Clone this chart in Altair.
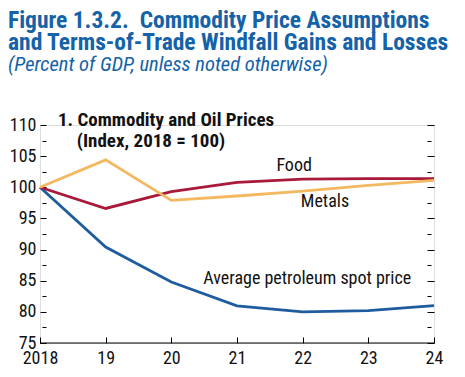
import altair as alt
import pandas as pd

years = [2018, 2019, 2020, 2021, 2022, 2023, 2024]
petroleum = [100.0, 90.4, 84.8, 80.95, 80.0, 80.2, 81.0]
food = [100.0, 96.6, 99.3, 100.8, 101.3, 101.4, 101.4]
metals = [100.0, 104.4, 97.9, 98.6, 99.4, 100.3, 101.1]

series_names = ["Average petroleum spot price", "Food", "Metals"]
series_colors = ["#1f5c9e", "#a8193a", "#f4b860"]

y_ticks = [75 + 2.5 * i for i in range(15)]

label_texts = ["Food", "Metals", "Average petroleum spot price"]
label_years = [2021.87, 2022.34, 2022.07]
label_values = [103.4, 97.6, 85.3]

rows = []
for name, vals in zip(series_names, [petroleum, food, metals]):
    for yr, v in zip(years, vals):
        rows.append({"year": yr, "value": v, "series": name})
df = pd.DataFrame(rows)

FONT = "Roboto Condensed, Liberation Sans, sans-serif"
W, H = 394, 218

xscale = alt.Scale(domain=[2018, 2024], nice=False)
yscale = alt.Scale(domain=[75, 110], nice=False)

xaxis = alt.Axis(
    values=years, labelExpr="datum.value == 2018 ? '2018' : slice(toString(datum.value), 2)",
    domain=False, grid=False, offset=-6, tickSize=6, tickColor="black", tickWidth=1,
    labelFont=FONT, labelFontSize=18, labelColor="#111", labelPadding=6, title=None,
    labelFlush=False, labelOverlap=False,
)
yaxis_left = alt.Axis(
    orient="left", values=y_ticks, labelExpr="datum.value % 5 == 0 ? datum.value : ''",
    domain=False, grid=False, offset=-6,
    tickSize={"condition": {"test": "datum.value % 5 == 0", "value": 6}, "value": 4},
    tickColor="black", tickWidth=1,
    labelFont=FONT, labelFontSize=18, labelColor="#111", labelPadding=4, title=None,
)
yaxis_right = alt.Axis(
    orient="right", values=y_ticks, labels=False,
    domain=False, grid=False, offset=-7,
    tickSize={"condition": {"test": "datum.value % 5 == 0", "value": 7}, "value": 4},
    tickColor="black", tickWidth=1, title=None,
)

lines = alt.Chart(df).mark_line(strokeWidth=2.8).encode(
    x=alt.X("year:Q", scale=xscale, axis=xaxis),
    y=alt.Y("value:Q", scale=yscale, axis=yaxis_left),
    color=alt.Color("series:N", scale=alt.Scale(domain=series_names, range=series_colors), legend=None),
)

right = alt.Chart(df).mark_point(opacity=0).encode(
    y=alt.Y("value:Q", scale=yscale, axis=yaxis_right),
)

base_rule = alt.Chart(pd.DataFrame({"v": [75]})).mark_rule(color="black", strokeWidth=1).encode(
    y=alt.Y("v:Q", scale=yscale, axis=None), x=alt.value(0), x2=alt.value(W)
)

label_df = pd.DataFrame({"text": label_texts, "year": label_years, "value": label_values})
labels = alt.Chart(label_df).mark_text(
    font=FONT, fontSize=18, color="#111", align="center", baseline="middle"
).encode(
    x=alt.X("year:Q", scale=xscale, axis=xaxis),
    y=alt.Y("value:Q", scale=yscale, axis=None),
    text="text:N",
)

def txt(s, x, y, size, weight="normal", style="normal", color="#111", align="left"):
    return alt.Chart(pd.DataFrame({"t": [s]})).mark_text(
        font=FONT, fontSize=size, fontWeight=weight, fontStyle=style, color=color,
        align=align, baseline="alphabetic",
    ).encode(x=alt.value(x), y=alt.value(y), text="t:N")

TITLE_BLUE = "#1462a8"
texts = [
    txt("Figure 1.3.2.\u00a0 Commodity Price Assumptions", -32, -97, 23.5, "bold", color=TITLE_BLUE),
    txt("and Terms-of-Trade Windfall Gains and Losses", -32, -75, 23.5, "bold", color=TITLE_BLUE),
    txt("(Percent of GDP, unless noted otherwise)", -32, -54, 20.5, style="italic", color=TITLE_BLUE),
    txt("1. Commodity and Oil Prices", 18, 1, 19, "bold"),
    txt("(Index, 2018 = 100)", 111, 22, 19, "bold", align="center"),
]

chart = alt.layer(base_rule, lines, right, labels, *texts).resolve_axis(y="independent").properties(
    width=W, height=H, padding={"left": 32, "top": 117, "right": 23, "bottom": 30},
    autosize=alt.AutoSizeParams(type="none"),
).configure_view(stroke=None).configure(background="white")

chart.save("out.html", embed_options={"renderer": "svg", "actions": False})
